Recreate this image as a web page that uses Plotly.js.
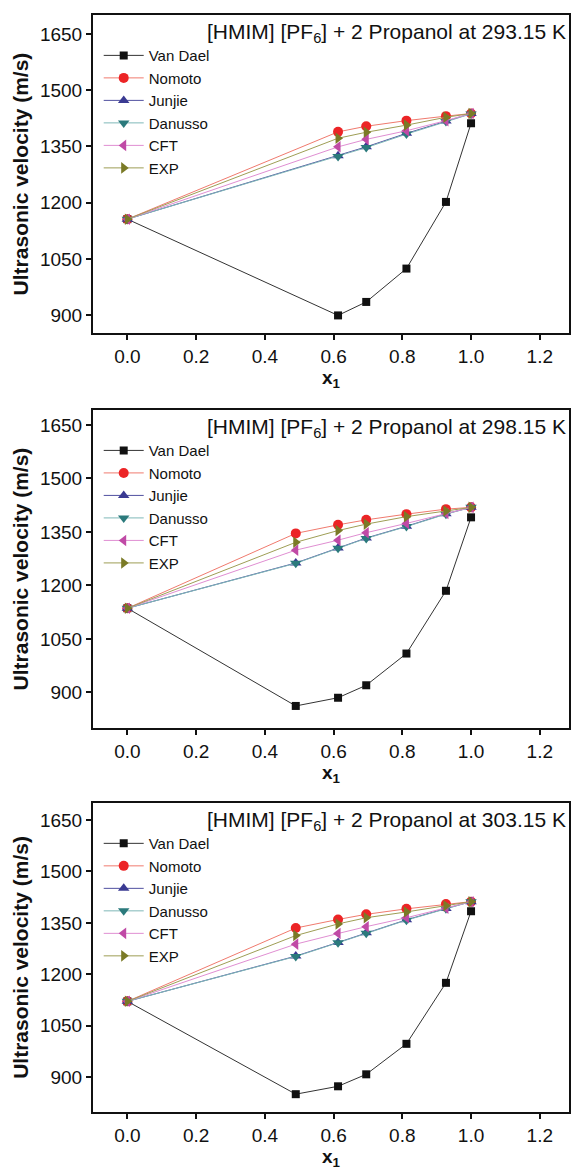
<!DOCTYPE html>
<html>
<head>
<meta charset="utf-8">
<script src="https://cdn.plot.ly/plotly-3.0.1.min.js"></script>
<style>html,body{margin:0;padding:0;background:#fff;}#chart{width:574px;height:1170px;}</style>
</head>
<body>
<div id="chart"></div>
<script>
// ---- data ----
const seriesNames = ["Van Dael", "Nomoto", "Junjie", "Danusso", "CFT", "EXP"];
const panelTitles = [
  "[HMIM] [PF<sub>6</sub>] + 2 Propanol at 293.15 K",
  "[HMIM] [PF<sub>6</sub>] + 2 Propanol at 298.15 K",
  "[HMIM] [PF<sub>6</sub>] + 2 Propanol at 303.15 K"
];
const x293 = [0, 0.613, 0.695, 0.812, 0.927, 1.0];
const x298 = [0, 0.49, 0.613, 0.695, 0.812, 0.927, 1.0];
const x303 = [0, 0.49, 0.613, 0.695, 0.812, 0.927, 1.0];

const vanDael293 = [1156, 899, 935, 1024, 1202, 1412];
const nomoto293  = [1156, 1389, 1404, 1419, 1431, 1438];
const junjie293  = [1156, 1325, 1349, 1385, 1418, 1438];
const danusso293 = [1156, 1323, 1347, 1383, 1417, 1437];
const cft293     = [1156, 1349, 1369, 1392, 1419, 1438];
const exp293     = [1156, 1372, 1388, 1407, 1428, 1438];

const vanDael298 = [1136, 862, 885, 920, 1009, 1185, 1391];
const nomoto298  = [1136, 1346, 1370, 1384, 1400, 1414, 1419];
const junjie298  = [1136, 1263, 1305, 1333, 1366, 1401, 1419];
const danusso298 = [1136, 1262, 1304, 1332, 1365, 1400, 1419];
const cft298     = [1136, 1299, 1327, 1348, 1374, 1402, 1419];
const exp298     = [1136, 1321, 1354, 1372, 1393, 1409, 1419];

const vanDael303 = [1121, 850, 873, 908, 997, 1175, 1384];
const nomoto303  = [1121, 1335, 1360, 1375, 1391, 1405, 1412];
const junjie303  = [1121, 1253, 1293, 1321, 1359, 1392, 1412];
const danusso303 = [1121, 1252, 1292, 1320, 1358, 1391, 1412];
const cft303     = [1121, 1288, 1319, 1339, 1365, 1393, 1412];
const exp303     = [1121, 1313, 1347, 1365, 1382, 1400, 1412];

const yTicks = [900, 1050, 1200, 1350, 1500, 1650];
const xTicks = [0, 0.2, 0.4, 0.6, 0.8, 1.0, 1.2];

// ---- styles ----
const markerColors = ["#111111", "#ec2426", "#3a3a92", "#2b7a7c", "#c04aa6", "#7a7a26"];
const lineColors   = ["#333333", "#f07a6e", "#5050a0", "#7fb8b8", "#e08ed2", "#9e9e55"];
const symbols = ["square", "circle", "triangle-up", "triangle-down", "triangle-left", "triangle-right"];
const markerSizes = [8, 10, 10, 10, 10, 10];

const panels = [
  {x: x293, ys: [vanDael293, nomoto293, junjie293, danusso293, cft293, exp293], range: [852, 1701], dom: [0.7101, 1.0], standoff: 2},
  {x: x298, ys: [vanDael298, nomoto298, junjie298, danusso298, cft298, exp298], range: [800, 1692], dom: [0.3500, 0.6399], standoff: 0},
  {x: x303, ys: [vanDael303, nomoto303, junjie303, danusso303, cft303, exp303], range: [798, 1700], dom: [0.0, 0.2817], standoff: 1}
];

const FONT = "Liberation Sans, Arial, sans-serif";
const traces = [];
const layout = {
  width: 574, height: 1170,
  margin: {l: 93, r: 5, t: 15, b: 58},
  paper_bgcolor: "#fff", plot_bgcolor: "#fff",
  font: {family: FONT, color: "#111"},
  annotations: []
};

panels.forEach((p, i) => {
  const n = i + 1;
  const xa = n === 1 ? "x" : "x" + n;
  const ya = n === 1 ? "y" : "y" + n;
  const legName = n === 1 ? "legend" : "legend" + n;
  p.ys.forEach((yv, k) => {
    traces.push({
      type: "scatter", mode: "lines+markers",
      x: p.x, y: yv, name: seriesNames[k],
      xaxis: xa, yaxis: ya, legend: legName,
      line: {color: lineColors[k], width: 1},
      marker: {symbol: symbols[k], color: markerColors[k], size: markerSizes[k]}
    });
  });
  const axX = n === 1 ? "xaxis" : "xaxis" + n;
  const axY = n === 1 ? "yaxis" : "yaxis" + n;
  layout[axX] = {
    domain: [0, 1], anchor: ya, range: [-0.1, 1.285],
    tickvals: xTicks, tickformat: ".1f",
    showline: true, linewidth: 2, linecolor: "#111", mirror: true,
    ticks: "outside", ticklen: 5, tickwidth: 2, tickcolor: "#111",
    showgrid: false, zeroline: false,
    tickfont: {family: FONT, size: 19, color: "#111"},
    title: {text: "<b>x<sub>1</sub></b>", font: {family: FONT, size: 19, color: "#111"}, standoff: p.standoff}
  };
  layout[axY] = {
    domain: p.dom, anchor: xa, range: p.range,
    tickvals: yTicks,
    showline: true, linewidth: 2, linecolor: "#111", mirror: true,
    ticks: "outside", ticklen: 5, tickwidth: 2, tickcolor: "#111",
    showgrid: false, zeroline: false,
    tickfont: {family: FONT, size: 19, color: "#111"},
    title: {text: "<b>Ultrasonic velocity (m/s)</b>", font: {family: FONT, size: 21, color: "#111"}, standoff: 6}
  };
  layout[legName] = {
    x: 0.012, y: p.dom[1] - 0.022, xanchor: "left", yanchor: "top",
    xref: "paper", yref: "paper",
    bgcolor: "rgba(0,0,0,0)", borderwidth: 0,
    font: {family: FONT, size: 15, color: "#111"},
    itemsizing: "trace", itemwidth: 40, tracegroupgap: 0
  };
  layout.annotations.push({
    text: panelTitles[i], xref: axX.replace("axis", "") + " domain", yref: ya + " domain",
    x: 0.997, y: 0.99, xanchor: "right", yanchor: "top", showarrow: false,
    font: {family: FONT, size: 21, color: "#111"}
  });
});

Plotly.newPlot("chart", traces, layout, {displayModeBar: false, staticPlot: true});
</script>
</body>
</html>
